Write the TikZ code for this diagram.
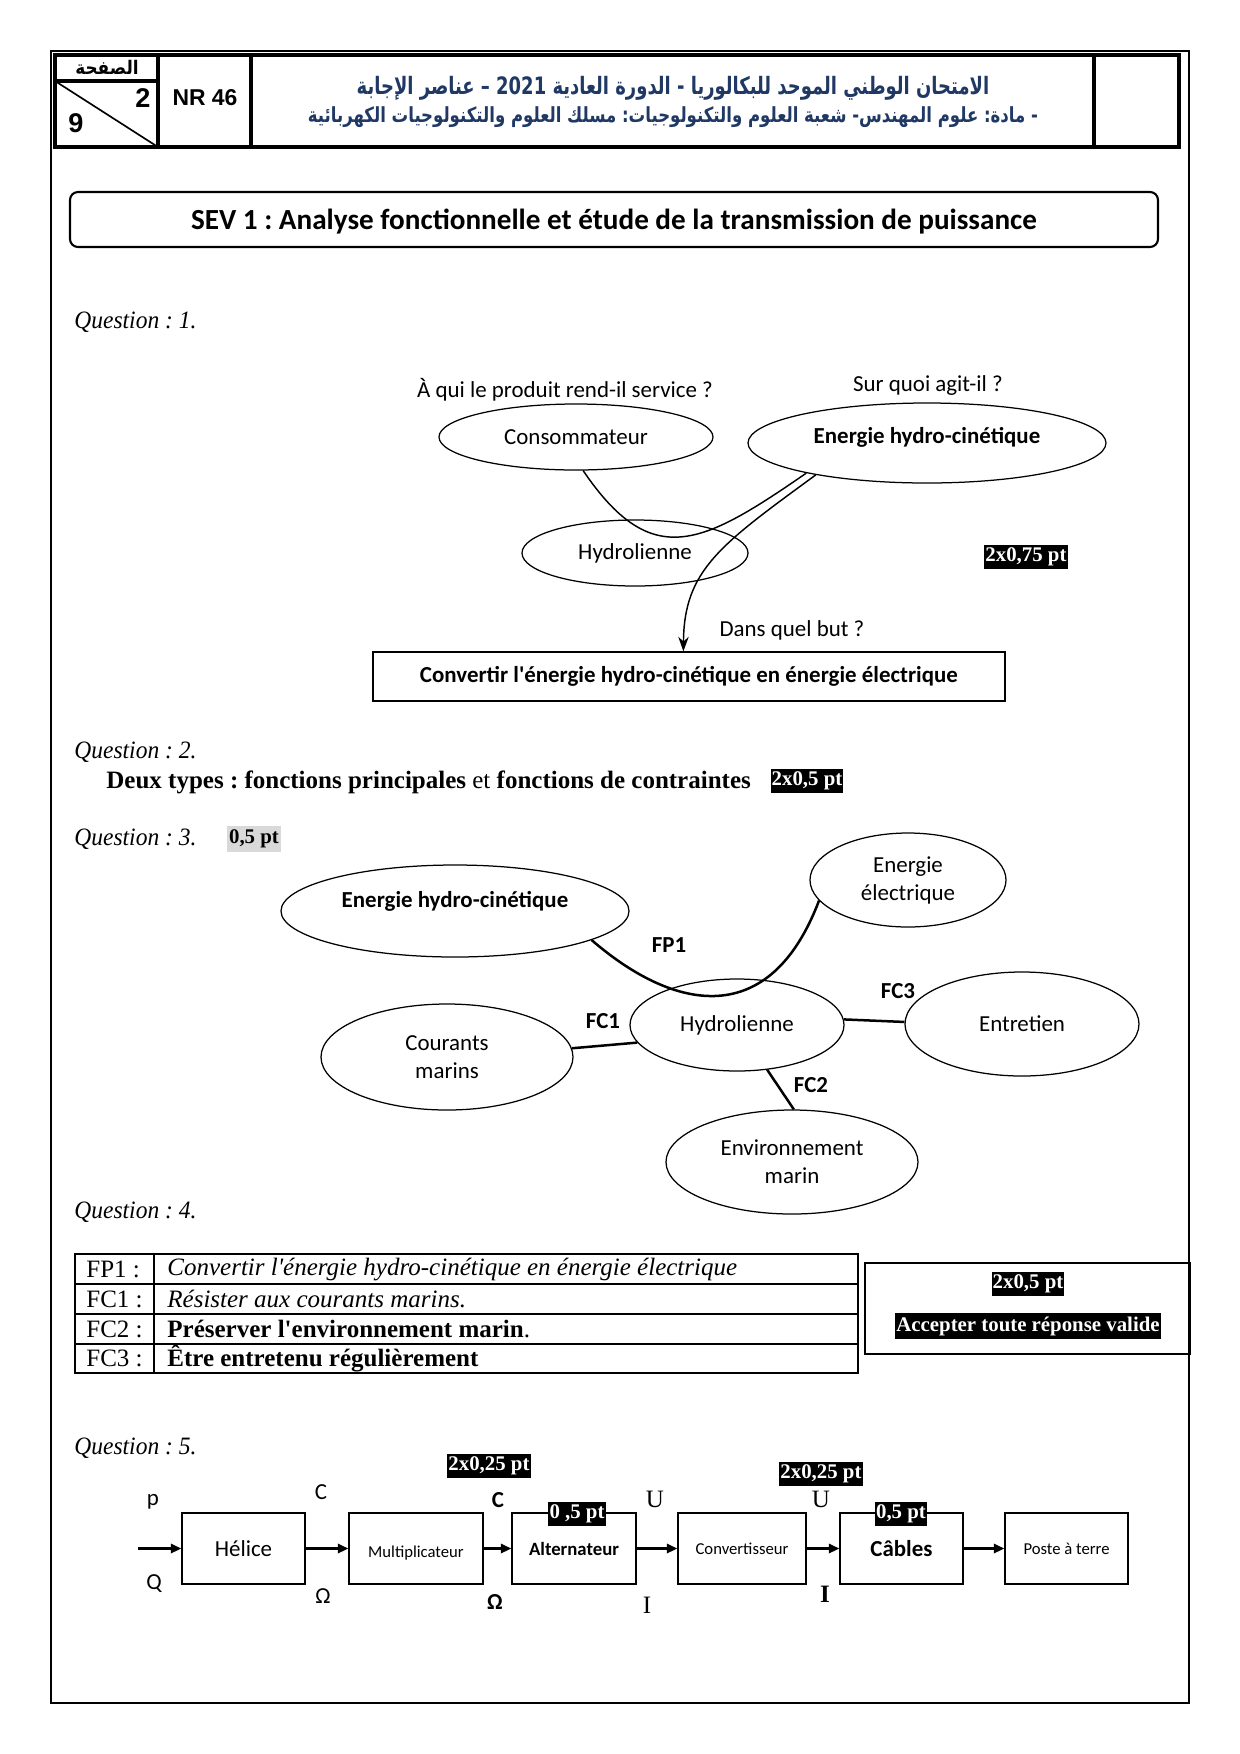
\documentclass[tikz,border=0pt]{standalone}
\usepackage{graphicx}
\usepackage{fontspec}
\setmainfont{Liberation Serif}
\newfontfamily\tnr{Liberation Serif}
\newfontfamily\calib{Carlito}
\newfontfamily\ari{Liberation Sans}
\newfontfamily\arabicfont[Script=Arabic]{DejaVu Sans}
\TeXXeTstate=1
\usetikzlibrary{shapes.geometric,arrows.meta}
\newdimen\pxu \pxu=0.48pt
\newcommand\fs[2]{\fontsize{#1}{#2}\selectfont}
\definecolor{navy}{RGB}{31,56,100}
\definecolor{lgray}{RGB}{217,217,217}
\frenchspacing
\tikzset{
 ell/.style={ellipse, draw, line width=0.6pt, inner sep=0pt, font=\calib\fs{11}{13.4}, align=center},
 hl/.style={fill=black, text=white, font=\tnr\bfseries\fs{10}{12}, inner xsep=0.5pt, inner ysep=1.5pt},
 qlab/.style={anchor=west, font=\tnr\itshape\fs{12}{14}, inner sep=0pt},
 blk/.style={draw, line width=0.7pt, minimum height=71\pxu, inner sep=0pt, font=\calib\fs{11}{13}},
 farrow/.style={line width=1pt, -{Triangle[length=5pt,width=4.5pt]}},
 link/.style={line width=1.2pt},
 lab/.style={font=\calib\bfseries\fs{11}{13}, inner sep=0pt},
 tcell/.style={anchor=west, inner sep=0pt, font=\tnr\fs{12}{14}},
}
\begin{document}
\begin{tikzpicture}[x=0.48pt,y=-0.48pt]
\useasboundingbox (0,0) rectangle (1240,1754);
% page frame and header
\draw[line width=1pt] (51,51) rectangle (1189,1703);
\draw[line width=1.5pt] (55,55) rectangle (1179,147);
\draw[line width=1.5pt] (158,55) -- (158,147);
\draw[line width=1.5pt] (251,55) -- (251,147);
\draw[line width=1.5pt] (1094,55) -- (1094,147);
\draw[line width=1.5pt] (55,81) -- (158,81);
\draw[line width=0.8pt] (55,81) -- (158,147);
\node[font=\arabicfont\bfseries\fs{9}{11}] (page) at (107,67) {\scalebox{0.9}[1]{\beginR الصفحة\endR}};
\node[font=\ari\bfseries\fs{13}{15}] (pn) at (143,98) {2};
\node[font=\ari\bfseries\fs{13}{15}] (pt) at (76,123) {9};
\node[font=\ari\bfseries\fs{11}{13}] (nr) at (205,98) {NR 46};
\node[text=navy, font=\arabicfont\bfseries\fs{11.5}{14}] (ar1) at (673,88) {\scalebox{0.75}[1]{\beginR الامتحان الوطني الموحد للبكالوريا - الدورة العادية \beginL 2021\endL{} – عناصر الإجابة\endR}};
\node[text=navy, font=\arabicfont\bfseries\fs{10}{12}] (ar2) at (673,117) {\scalebox{0.793}[1]{\beginR - مادة: علوم المهندس- شعبة العلوم والتكنولوجيات: مسلك العلوم والتكنولوجيات الكهربائية\endR}};
% title
\node[draw, rounded corners=8\pxu, line width=1pt, minimum width=1088\pxu, minimum height=55\pxu] (sev) at (614,219.5) {};
\node[font=\calib\bfseries\fs{14}{16}] (sevt) at (614,222) {SEV 1 : Analyse fonctionnelle et étude de la transmission de puissance};
% Question 1
\node[qlab] (q1) at (74,322) {\scalebox{0.94}[1]{Question : 1.}};
\node[font=\calib\fs{11}{13}] (w1) at (565,390) {À qui le produit rend-il service ?};
\node[font=\calib\fs{11}{13}] (w2) at (928,386) {Sur quoi agit-il ?};
\node[ell, minimum width=274\pxu, minimum height=66\pxu] (cons) at (576,437) {Consommateur};
\node[ell, font=\calib\bfseries\fs{11}{13}, minimum width=358\pxu, minimum height=80\pxu] (eh1) at (927,443) {\raisebox{2.5pt}[\height][\depth]{Energie hydro-cinétique}};
\node[ell, minimum width=226\pxu, minimum height=66\pxu] (hy1) at (635,553) {Hydrolienne};
\node[draw, line width=0.6pt, minimum width=632\pxu, minimum height=49\pxu, font=\calib\bfseries\fs{11}{13}] (conv) at (689,676.5) {Convertir l'énergie hydro-cinétique en énergie électrique};
\node[font=\calib\fs{11}{13}] (w3) at (792,630) {Dans quel but ?};
\node[hl] (p1) at (1026,557) {2x0,75 pt};
\draw[line width=0.7pt] (cons.-78) .. controls (652,572) and (702,545) .. (eh1.194);
\draw[line width=0.7pt, -{Stealth[length=7pt,width=5pt]}] (eh1.196) .. controls (720,545) and (684,570) .. ([xshift=311\pxu]conv.north west);
% Question 2
\node[qlab] (q2) at (74,752) {\scalebox{0.94}[1]{Question : 2.}};
\node[anchor=west, inner sep=0pt, font=\tnr\fs{12}{14}] (q2t) at (106,782) {\textbf{Deux types : fonctions principales} et \textbf{fonctions de contraintes}};
\node[hl] (p2) at (807,781) {2x0,5 pt};
% Question 3
\node[qlab] (q3) at (74,839) {\scalebox{0.94}[1]{Question : 3.}};
\node[fill=lgray, font=\tnr\bfseries\fs{10}{12}, inner xsep=1pt, inner ysep=2pt] (p3) at (254,839) {0,5 pt};
\node[ell, font=\calib\bfseries\fs{11}{13}, minimum width=348\pxu, minimum height=92\pxu] (eh3) at (455,911) {\raisebox{4.5pt}[\height][\depth]{Energie hydro-cinétique}};
\node[ell, minimum width=196\pxu, minimum height=94\pxu] (ee) at (908,880) {Energie\\électrique};
\node[ell, minimum width=214\pxu, minimum height=92\pxu] (hy3) at (737,1025) {Hydrolienne};
\node[ell, minimum width=252\pxu, minimum height=106\pxu] (cm) at (447,1057) {Courants\\marins};
\node[ell, minimum width=234\pxu, minimum height=104\pxu] (ent) at (1022,1024) {Entretien};
\node[ell, minimum width=252\pxu, minimum height=104\pxu] (env) at (792,1162) {Environnement\\marin};
\draw[link] (eh3.-12) .. controls (675,1012) and (770,1030) .. (ee.193);
\draw[link] (cm.4) -- (hy3.190);
\draw[link] (hy3.3) -- (ent.179);
\draw[link] (hy3.-56) -- (env.88);
\node[lab] (fp1) at (669,945) {FP1};
\node[lab] (fc1) at (603,1021) {FC1};
\node[lab] (fc3) at (898,991) {FC3};
\node[lab] (fc2) at (811,1085) {FC2};
% Question 4
\node[qlab] (q4) at (74,1212) {\scalebox{0.94}[1]{Question : 4.}};
\draw[line width=0.6pt] (75,1254) rectangle (858,1373);
\draw[line width=0.6pt] (75,1284) -- (858,1284) (75,1314) -- (858,1314) (75,1344) -- (858,1344) (154,1254) -- (154,1373);
\node[tcell] (r1a) at (86,1269) {FP1 :};
\node[tcell] (r2a) at (86,1299) {FC1 :};
\node[tcell] (r3a) at (86,1329) {FC2 :};
\node[tcell] (r4a) at (86,1358.5) {FC3 :};
\node[tcell, font=\tnr\itshape\fs{12}{14}] (r1b) at (167,1269) {Convertir l'énergie hydro-cinétique en énergie électrique};
\node[tcell, font=\tnr\itshape\fs{12}{14}] (r2b) at (167,1299) {Résister aux courants marins.};
\node[tcell] (r3b) at (167,1329) {\textbf{Préserver l'environnement marin}.};
\node[tcell, font=\tnr\bfseries\fs{12}{14}] (r4b) at (167,1358.5) {Être entretenu régulièrement};
\node[draw, line width=0.6pt, minimum width=325\pxu, minimum height=91\pxu] (q4box) at (1027.5,1308.5) {};
\node[hl] (p4a) at (1028,1284) {2x0,5 pt};
\node[hl] (p4b) at (1028,1326) {Accepter toute réponse valide};
% Question 5
\node[qlab] (q5) at (74,1448) {\scalebox{0.94}[1]{Question : 5.}};
\coordinate (in5) at (138,1548.5);
\node[blk, minimum width=123\pxu] (hel) at (243.5,1548.5) {Hélice};
\node[blk, minimum width=134\pxu, font=\calib\fs{8}{10}] (mul) at (416,1548.5) {\raisebox{-2.2pt}[\height][\depth]{Multiplicateur}};
\node[blk, minimum width=124\pxu, font=\calib\bfseries\fs{9}{11}] (alt) at (574,1548.5) {Alternateur};
\node[blk, minimum width=128\pxu, font=\calib\fs{8}{10}] (cvt) at (742,1548.5) {Convertisseur};
\node[blk, minimum width=123\pxu, font=\calib\bfseries\fs{11}{13}] (cab) at (901.5,1548.5) {Câbles};
\node[blk, minimum width=123\pxu, font=\calib\fs{8}{10}] (pos) at (1066.5,1548.5) {Poste à terre};
\draw[farrow] (in5) -- (hel);
\draw[farrow] (hel) -- (mul);
\draw[farrow] (mul) -- (alt);
\draw[farrow] (alt) -- (cvt);
\draw[farrow] (cvt) -- (cab);
\draw[farrow] (cab) -- (pos);
\node[font=\calib\fs{11}{13}] (lp) at (153,1502) {p};
\node[font=\calib\fs{11}{13}] (lq) at (154,1584) {Q};
\node[font=\calib\fs{11}{13}] (lc1) at (321,1492) {C};
\node[font=\calib\fs{11}{13}] (lo1) at (323,1596) {Ω};
\node[font=\calib\bfseries\fs{11}{13}] (lc2) at (498,1500) {C};
\node[font=\calib\bfseries\fs{11}{13}] (lo2) at (495,1602) {Ω};
\node[font=\tnr\fs{12}{14}] (lu1) at (655,1499) {U};
\node[font=\tnr\fs{12}{14}] (li1) at (647,1605) {I};
\node[font=\tnr\fs{12}{14}] (lu2) at (821,1499) {U};
\node[font=\tnr\bfseries\fs{12}{14}] (li2) at (825,1594) {I};
\node[hl] (p5a) at (489,1466) {2x0,25 pt};
\node[hl] (p5b) at (577,1514) {0 ,5 pt};
\node[hl] (p5c) at (821,1474) {2x0,25 pt};
\node[hl] (p5d) at (901,1514) {0,5 pt};
\end{tikzpicture}
\end{document}
